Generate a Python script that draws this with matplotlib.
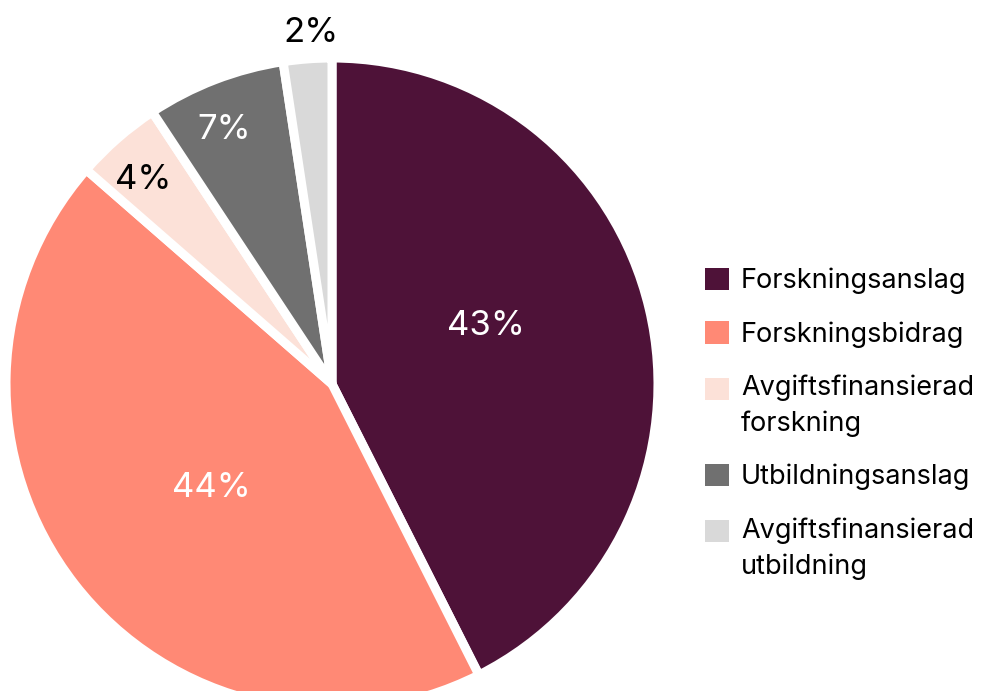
import matplotlib

matplotlib.use("Agg")

import matplotlib.pyplot as plt
import numpy as np
from matplotlib.legend_handler import HandlerPatch
from matplotlib.patches import Rectangle

categories = [
    "Forskningsanslag",
    "Forskningsbidrag",
    "Avgiftsfinansierad\nforskning",
    "Utbildningsanslag",
    "Avgiftsfinansierad\nutbildning",
]
shares = [42.6, 43.9, 4.3, 6.9, 2.4]

colors = ["#4e1238", "#ff8975", "#fce1d8", "#707070", "#d9d9d9"]
label_colors = ["white", "white", "black", "white", "black"]
# radial distance (fraction of radius) and small angular nudge per label
label_radius = [0.51, 0.48, 0.86, 0.855, 1.09]
label_nudge = [8.4, 1.9, 1.1, 1.7, -0.85]

plt.rcParams["font.family"] = ["Inter", "DejaVu Sans"]


class FirstLineHandler(HandlerPatch):
    """Square handle aligned with the first line of a multi-line label."""

    def __init__(self, shift=0.0, **kwargs):
        super().__init__(**kwargs)
        self.shift = shift

    def _create_patch(self, legend, orig_handle, xdescent, ydescent, width, height, fontsize):
        return Rectangle((-xdescent, -ydescent + self.shift * fontsize), width, height)


fig = plt.figure(figsize=(9.91, 6.91), dpi=100)
W, H = 991, 691
cx, cy, R = 332, 691 - 384, 326
ax = fig.add_axes([(cx - R) / W, (cy - R) / H, 2 * R / W, 2 * R / H])

wedges, _ = ax.pie(
    shares,
    colors=colors,
    startangle=90,
    counterclock=False,
    radius=1.0,
    wedgeprops=dict(edgecolor="white", linewidth=6.5, joinstyle="round"),
)
ax.set_xlim(-1, 1)
ax.set_ylim(-1, 1)
ax.set_aspect("equal")
ax.axis("off")

for w, v, c, r, nudge in zip(wedges, shares, label_colors, label_radius, label_nudge):
    ang = np.deg2rad((w.theta1 + w.theta2) / 2 + nudge)
    ax.text(
        r * np.cos(ang),
        r * np.sin(ang),
        f"{round(v)}%",
        ha="center",
        va="center_baseline",
        fontsize=25,
        color=c,
        clip_on=False,
    )

handler_map = {}
for w, name in zip(wedges, categories):
    shift = 0.65 if "\n" in name else 0.0
    handler_map[w] = FirstLineHandler(shift=shift)

leg = fig.legend(
    wedges,
    categories,
    loc="upper left",
    bbox_to_anchor=(705 / W, 1 - 268 / H),
    frameon=False,
    fontsize=19.5,
    handlelength=0.88,
    handleheight=0.88,
    handletextpad=0.45,
    labelspacing=0.99,
    borderpad=0,
    borderaxespad=0,
    handler_map=handler_map,
)
for h in leg.legend_handles:
    h.set_linewidth(0)
for t in leg.get_texts():
    t.set_linespacing(1.46)

fig.savefig("out.png", dpi=100, facecolor="white")
